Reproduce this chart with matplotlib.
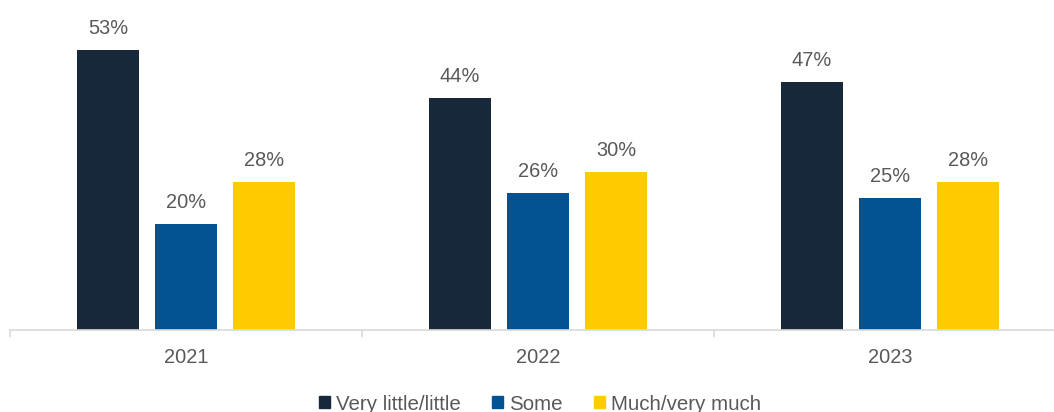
import numpy as np
import matplotlib.pyplot as plt
from matplotlib.patches import Patch

plt.rcParams['font.family'] = ['Liberation Sans', 'DejaVu Sans']

years = ['2021', '2022', '2023']
series_names = ['Very little/little', 'Some', 'Much/very much']
very_little = [53, 44, 47]
some = [20, 26, 25]
much = [28, 30, 28]
colors = ['#17283b', '#005293', '#ffcc00']

fig = plt.figure(figsize=(10.54, 4.12), dpi=100)
# axes run a little past the right edge so the last group is cut like the slide
ax = fig.add_axes([10 / 1054, 82 / 412, 1056 / 1054, 317 / 412])

x = np.arange(len(years))
width = 0.176
step = 0.2216
text_col = '#595959'

for i, (vals, col) in enumerate(zip([very_little, some, much], colors)):
    pos = x + (i - 1) * step
    ax.bar(pos, vals, width, color=col, label=series_names[i])
    for px, v in zip(pos, vals):
        ax.annotate(f'{v}%', (px, v), xytext=(0, 11.5), textcoords='offset points',
                    ha='center', va='baseline', fontsize=14.4, color=text_col)

ax.set_xlim(-0.5, 2.5)
ax.set_ylim(0, 60)
ax.set_yticks([])
for s in ['top', 'right', 'left']:
    ax.spines[s].set_visible(False)
ax.spines['bottom'].set_color('#d9d9d9')
ax.spines['bottom'].set_linewidth(1.2)

ax.set_xticks(x)
ax.set_xticklabels(years, fontsize=14.4, color=text_col)
ax.tick_params(axis='x', which='major', length=0, pad=13)
ax.set_xticks([-0.5, 0.5, 1.5, 2.5], minor=True)
ax.tick_params(axis='x', which='minor', length=5, width=1.2, color='#d9d9d9')

handles = [Patch(color=c) for c in colors]
fig.legend(handles, series_names, loc='center', bbox_to_anchor=(540 / 1054, 8 / 412),
           ncol=3, frameon=False, fontsize=14.8, handlelength=0.55, handleheight=0.55,
           handletextpad=0.3, columnspacing=1.5, labelcolor=text_col)

fig.savefig('out.png', dpi=100)
